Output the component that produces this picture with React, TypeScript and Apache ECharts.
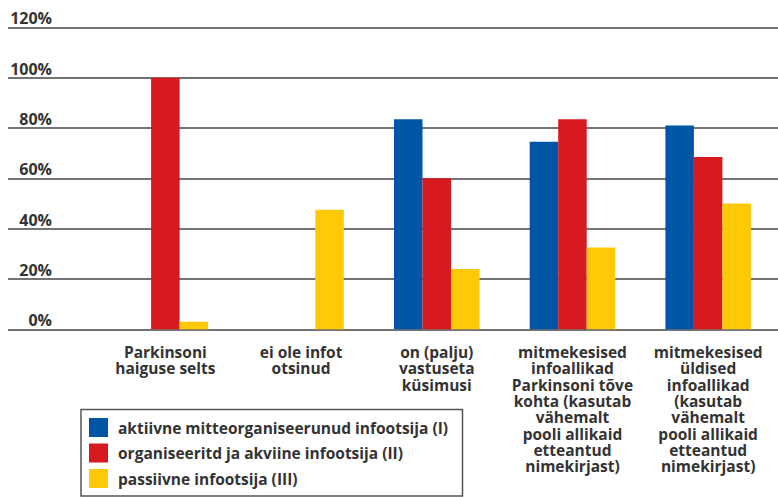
import React, { useEffect, useRef } from "react";
import * as echarts from "echarts";

const categories = [
  "Parkinsoni\nhaiguse selts",
  "ei ole infot\notsinud",
  "on (palju)\nvastuseta\nküsimusi",
  "mitmekesised\ninfoallikad\nParkinsoni tõve\nkohta (kasutab\nvähemalt\npooli allikaid\netteantud\nnimekirjast)",
  "mitmekesised\nüldised\ninfoallikad\n(kasutab\nvähemalt\npooli allikaid\netteantud\nnimekirjast)",
];
const seriesNames = [
  "aktiivne mitteorganiseerunud infootsija (I)",
  "organiseeritd ja akviine infootsija (II)",
  "passiivne infootsija (III)",
];
const activeValues = [null, null, 83.5, 74.5, 81];
const organisedValues = [100, null, 60, 83.5, 68.5];
const passiveValues = [3, 47.5, 24, 32.5, 50];
const yTicks = [0, 20, 40, 60, 80, 100, 120];

const colors = ["#0055A5", "#D71920", "#FFC907"];
const FONT = "'Open Sans', 'DejaVu Sans', sans-serif";

export default function App() {
  const ref = useRef<HTMLDivElement>(null);
  useEffect(() => {
    if (!ref.current) return;
    const chart = echarts.init(ref.current, null, { renderer: "svg" });
    const top = 27.3;
    const height = 302;
    chart.setOption({
      animation: false,
      color: colors,
      textStyle: { fontFamily: FONT },
      grid: [
        { left: 8, right: 0, top, height, outerBoundsMode: "none", containLabel: false },
        { left: 97.5, right: 2, top, height, outerBoundsMode: "none", containLabel: false },
      ],
      legend: {
        data: seriesNames,
        orient: "vertical",
        left: 89,
        top: 418,
        itemWidth: 19,
        itemHeight: 19,
        itemGap: 6.5,
        icon: "rect",
        padding: 0,
        textStyle: {
          fontFamily: FONT,
          fontSize: 15.5,
          fontWeight: "bold",
          color: "#333",
          padding: [0, 0, 0, 5],
        },
      },
      graphic: [
        {
          type: "rect",
          shape: { x: 81, y: 409.5, width: 381.5, height: 86.5 },
          style: { fill: "none", stroke: "#555", lineWidth: 1.5 },
        },
      ],
      xAxis: [
        { type: "category", gridIndex: 0, show: false, data: categories },
        {
          type: "category",
          gridIndex: 1,
          data: categories,
          axisLine: { show: false },
          axisTick: { show: false },
          axisLabel: {
            interval: 0,
            margin: 14.6,
            color: "#333",
            fontFamily: FONT,
            fontSize: 15.5,
            fontWeight: "bold",
            lineHeight: 16.3,
          },
        },
      ],
      yAxis: [
        {
          type: "value",
          gridIndex: 0,
          min: yTicks[0],
          max: yTicks[yTicks.length - 1],
          interval: 20,
          axisLine: { show: false },
          axisTick: { show: false },
          splitLine: { lineStyle: { color: "#444", width: 1.5 } },
          axisLabel: {
            inside: true,
            margin: 44,
            align: "right",
            verticalAlign: "bottom",
            padding: [0, 0, 1, 0],
            formatter: (v: number) => `${v}%`,
            color: "#333",
            fontFamily: FONT,
            fontSize: 16,
            fontWeight: "bold",
          },
        },
        {
          type: "value",
          gridIndex: 1,
          min: 0,
          max: 120,
          interval: 20,
          show: false,
          splitLine: { show: false },
        },
      ],
      series: [
        { name: seriesNames[0], type: "bar", xAxisIndex: 1, yAxisIndex: 1, data: activeValues, barWidth: 28.5, barGap: "0%" },
        { name: seriesNames[1], type: "bar", xAxisIndex: 1, yAxisIndex: 1, data: organisedValues, barWidth: 28.5, barGap: "0%" },
        { name: seriesNames[2], type: "bar", xAxisIndex: 1, yAxisIndex: 1, data: passiveValues, barWidth: 28.5, barGap: "0%" },
      ],
    });
    return () => chart.dispose();
  }, []);
  return (
    <div
      ref={ref}
      style={{ position: "fixed", left: 0, top: 0, width: 778, height: 497, background: "#fff" }}
    />
  );
}
